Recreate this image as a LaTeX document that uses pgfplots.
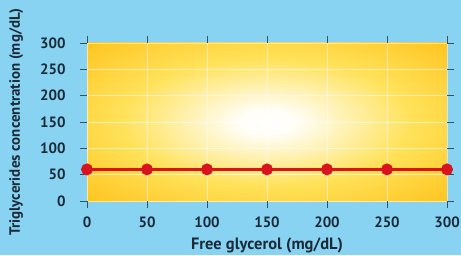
\documentclass[border=0pt]{standalone}
\usepackage{fontspec}
\setmainfont{PT Sans}[BoldFont={PT Sans Bold}]
\usepackage{pgfplots}
\pgfplotsset{compat=1.18}
\definecolor{bgblue}{HTML}{88D3F2}
\definecolor{glowmid}{HTML}{FFE25A}
\definecolor{glowout}{HTML}{FFBC0E}
\definecolor{txt}{HTML}{1C2A38}
\definecolor{tickc}{HTML}{2E5566}
\definecolor{linered}{HTML}{D9141E}
\pgfdeclareradialshading{glow}{\pgfpoint{0bp}{0bp}}{color(0bp)=(white); color(4bp)=(white!95!glowmid); color(20bp)=(glowmid); color(40bp)=(glowout); color(50bp)=(glowout); color(75bp)=(glowout)}
\begin{document}
\begin{tikzpicture}[x=1bp,y=1bp]
\fill[bgblue] (0,0) rectangle (461,255);
\begin{axis}[
  at={(87bp,54bp)}, anchor=south west,
  scale only axis, width=360bp, height=158bp,
  xmin=0, xmax=300, ymin=0, ymax=300,
  xtick={0,50,...,300}, ytick={0,50,...,300},
  axis line style={draw=none},
  tick align=outside, major tick length=7bp,
  every tick/.style={tickc, line width=1pt},
  grid=major, major grid style={white, opacity=0.55, line width=0.7pt},
  axis background/.style={shading=glow},
  font=\bfseries\fontsize{15}{17}\selectfont,
  tick label style={txt, font=\bfseries\fontsize{15}{17}\selectfont},
  /pgf/number format/assume math mode=true,
  yticklabel style={xshift=-11bp},
  xticklabel style={yshift=-5bp},
  xlabel={Free glycerol (mg/dL)},
  ylabel={Triglycerides concentration (mg/dL)},
  xlabel style={txt, font=\bfseries\fontsize{16.5}{18}\selectfont, yshift=-4bp},
  ylabel style={txt, font=\bfseries\fontsize{15}{17}\selectfont, yshift=10bp},
  clip=false,
]
\addplot[linered, line width=2.6bp, mark=*, mark size=4.6bp, mark options={fill=linered, draw=linered}]
coordinates {(0,60) (50,60) (100,60) (150,60) (200,60) (250,60) (300,60)};
\end{axis}
\pgfresetboundingbox
\useasboundingbox (0,0) rectangle (461,255);
\end{tikzpicture}
\end{document}
